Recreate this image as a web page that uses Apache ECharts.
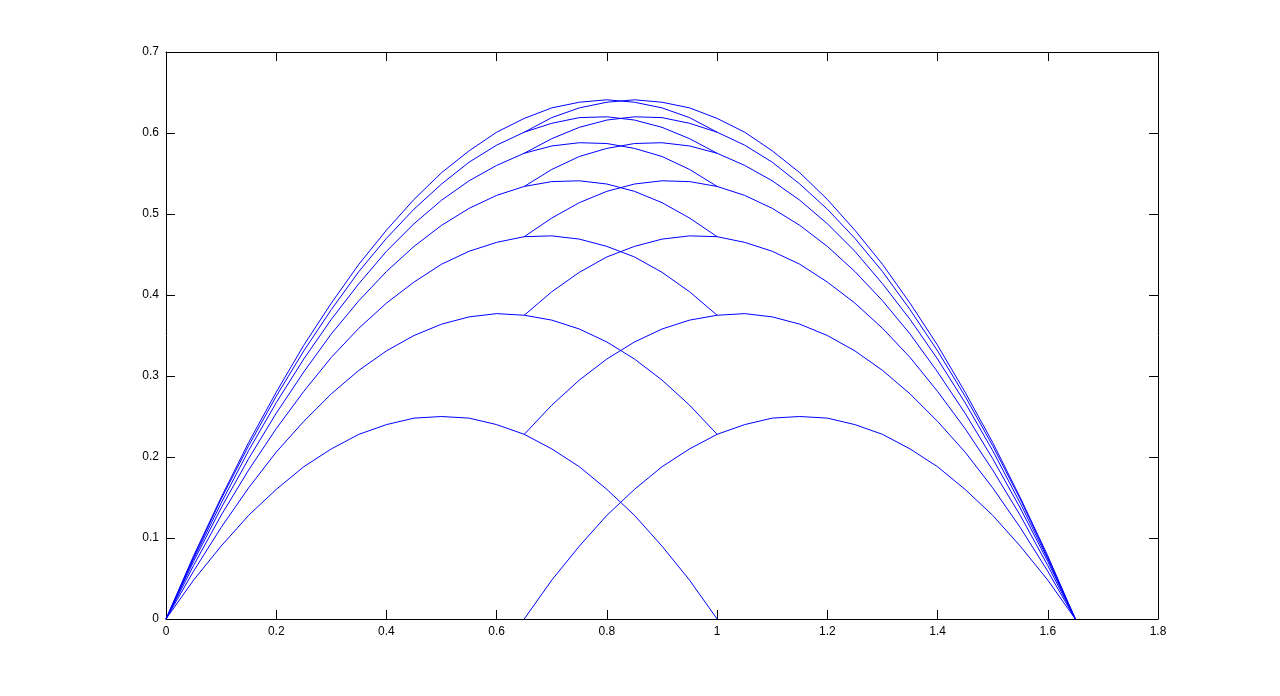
<!DOCTYPE html>
<html>
<head>
<meta charset="utf-8">
<script src="https://cdn.jsdelivr.net/npm/echarts@6/dist/echarts.min.js"></script>
<style>
  html, body { margin: 0; padding: 0; background: #fff; }
  #main { width: 1280px; height: 696px; }
</style>
</head>
<body>
<div id="main"></div>
<script>
// x sample positions of the arcs that start at the origin / end at 1.65
var xLeft = [0, 0.05, 0.1, 0.15, 0.2, 0.25, 0.3, 0.35, 0.4, 0.45, 0.5, 0.55, 0.6, 0.65, 0.7, 0.75, 0.8, 0.85, 0.9, 0.95, 1.0];
var xRight = [0.65, 0.7, 0.75, 0.8, 0.85, 0.9, 0.95, 1.0, 1.05, 1.1, 1.15, 1.2, 1.25, 1.3, 1.35, 1.4, 1.45, 1.5, 1.55, 1.6, 1.65];

// arcs, from the lowest one to the top one
var left1 = [0, 0.048, 0.090, 0.128, 0.160, 0.188, 0.210, 0.228, 0.240, 0.248, 0.250, 0.248, 0.240, 0.228, 0.210, 0.188, 0.160, 0.128, 0.090, 0.048, 0];
var left2 = [0, 0.059, 0.113, 0.162, 0.206, 0.244, 0.278, 0.307, 0.331, 0.350, 0.364, 0.373, 0.377, 0.375, 0.369, 0.358, 0.342, 0.321, 0.295, 0.264, 0.228];
var left3 = [0, 0.066, 0.128, 0.184, 0.235, 0.281, 0.323, 0.359, 0.390, 0.416, 0.438, 0.454, 0.465, 0.472, 0.473, 0.469, 0.460, 0.447, 0.428, 0.404, 0.375];
var left4 = [0, 0.071, 0.137, 0.198, 0.254, 0.305, 0.352, 0.393, 0.429, 0.460, 0.486, 0.507, 0.523, 0.534, 0.540, 0.541, 0.537, 0.528, 0.514, 0.495, 0.472];
var left5 = [0, 0.074, 0.143, 0.208, 0.267, 0.321, 0.370, 0.414, 0.454, 0.488, 0.517, 0.541, 0.560, 0.575, 0.584, 0.588, 0.587, 0.581, 0.571, 0.555, 0.534];
var left6 = [0, 0.076, 0.148, 0.214, 0.275, 0.331, 0.382, 0.429, 0.470, 0.506, 0.537, 0.564, 0.585, 0.601, 0.612, 0.619, 0.620, 0.616, 0.607, 0.593, 0.575];
var left7 = [0, 0.078, 0.150, 0.218, 0.280, 0.338, 0.390, 0.438, 0.480, 0.518, 0.551, 0.578, 0.601, 0.618, 0.631, 0.638, 0.641, 0.638, 0.631, 0.619, 0.601];

var right1 = [0, 0.048, 0.090, 0.128, 0.160, 0.188, 0.210, 0.228, 0.240, 0.248, 0.250, 0.248, 0.240, 0.228, 0.210, 0.188, 0.160, 0.128, 0.090, 0.048, 0];
var right2 = [0.228, 0.264, 0.295, 0.321, 0.342, 0.358, 0.369, 0.375, 0.377, 0.373, 0.364, 0.350, 0.331, 0.307, 0.278, 0.244, 0.206, 0.162, 0.113, 0.059, 0];
var right3 = [0.375, 0.404, 0.428, 0.447, 0.460, 0.469, 0.473, 0.472, 0.465, 0.454, 0.438, 0.416, 0.390, 0.359, 0.323, 0.281, 0.235, 0.184, 0.128, 0.066, 0];
var right4 = [0.472, 0.495, 0.514, 0.528, 0.537, 0.541, 0.540, 0.534, 0.523, 0.507, 0.486, 0.460, 0.429, 0.393, 0.352, 0.305, 0.254, 0.198, 0.137, 0.071, 0];
var right5 = [0.534, 0.555, 0.571, 0.581, 0.587, 0.588, 0.584, 0.575, 0.560, 0.541, 0.517, 0.488, 0.454, 0.414, 0.370, 0.321, 0.267, 0.208, 0.143, 0.074, 0];
var right6 = [0.575, 0.593, 0.607, 0.616, 0.620, 0.619, 0.612, 0.601, 0.585, 0.564, 0.537, 0.506, 0.470, 0.429, 0.382, 0.331, 0.275, 0.214, 0.148, 0.076, 0];
var right7 = [0.601, 0.619, 0.631, 0.638, 0.641, 0.638, 0.631, 0.618, 0.601, 0.578, 0.551, 0.518, 0.480, 0.438, 0.390, 0.338, 0.280, 0.218, 0.150, 0.078, 0];

var xTicks = { min: 0, max: 1.8, interval: 0.2 };
var yTicks = { min: 0, max: 0.7, interval: 0.1 };

function pairs(xs, ys) {
    return xs.map(function(x, i) { return [x, ys[i]]; });
}

function arc(xs, ys) {
    return {
        type: 'line',
        data: pairs(xs, ys),
        showSymbol: false,
        symbol: 'none',
        silent: true,
        lineStyle: { color: '#0000ff', width: 1 }
    };
}

var lefts = [left1, left2, left3, left4, left5, left6, left7];
var rights = [right1, right2, right3, right4, right5, right6, right7];
var series = [];
lefts.forEach(function(ys) { series.push(arc(xLeft, ys)); });
rights.forEach(function(ys) { series.push(arc(xRight, ys)); });

var labelFont = { color: '#000', fontFamily: 'Liberation Sans', fontSize: 12 };
var lineBlack = { show: true, onZero: false, lineStyle: { color: '#000', width: 1 } };
var tickIn = { show: true, inside: true, length: 9, lineStyle: { color: '#000', width: 1 } };

function axisBase(range, pos, labels) {
    return {
        type: 'value',
        position: pos,
        min: range.min,
        max: range.max,
        interval: range.interval,
        axisLine: lineBlack,
        axisTick: tickIn,
        splitLine: { show: false },
        axisLabel: Object.assign({ show: labels, margin: 7 }, labelFont)
    };
}

var chart = echarts.init(document.getElementById('main'));
chart.setOption({
    animation: false,
    backgroundColor: '#fff',
    grid: { left: 166, right: 122, top: 52, bottom: 77 },
    xAxis: [axisBase(xTicks, 'bottom', true), axisBase(xTicks, 'top', false)],
    yAxis: [axisBase(yTicks, 'left', true), axisBase(yTicks, 'right', false)],
    series: series
});
</script>
</body>
</html>
